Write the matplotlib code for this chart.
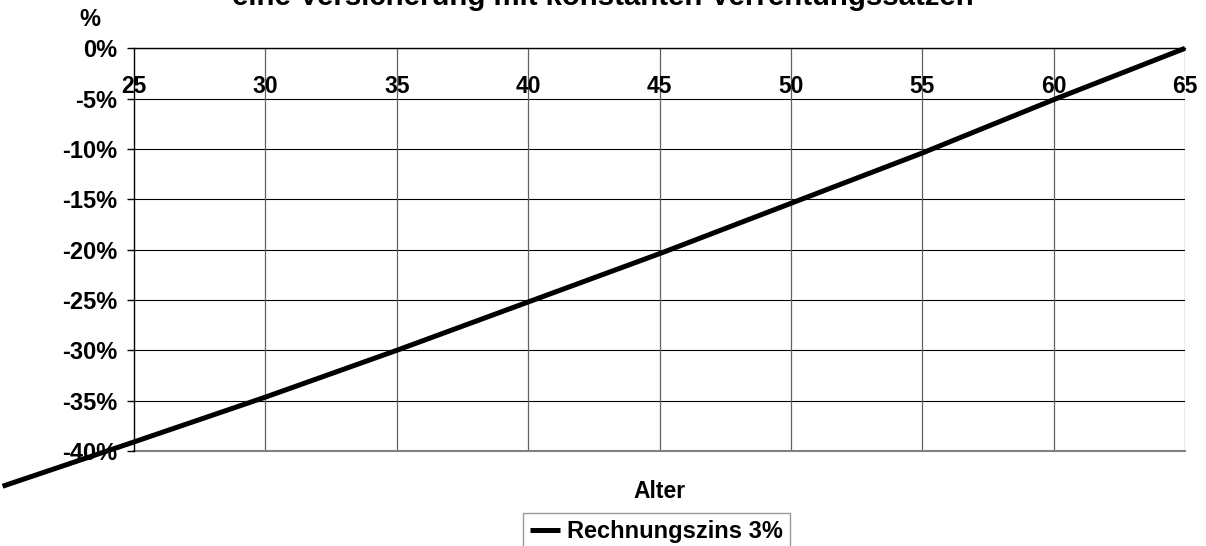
import matplotlib.pyplot as plt

plt.rcParams['font.family'] = ['Liberation Sans', 'DejaVu Sans']
plt.rcParams['font.weight'] = 'bold'

# Alter und Veraenderung in %
alter = [20, 25, 30, 35, 40, 45, 50, 55, 60, 65]
werte = [-43.5, -39.1, -34.65, -30.0, -25.2, -20.4, -15.4, -10.4, -5.1, 0.0]
x_ticks = [25, 30, 35, 40, 45, 50, 55, 60, 65]
y_ticks = [0, -5, -10, -15, -20, -25, -30, -35, -40]
titel = 'eine Versicherung mit konstanten Verrentungssätzen'
serie = 'Rechnungszins 3%'

fig = plt.figure(figsize=(12.06, 5.46), dpi=100)
ax = fig.add_axes([0.1111, 0.174, 0.8715, 0.7375])

ax.set_xlim(25, 65)
ax.set_ylim(-40, 0)

# Gitter
for y in y_ticks:
    ax.axhline(y, color='black', lw=0.8, zorder=1)
for x in x_ticks[1:]:
    ax.axvline(x, color='#606060', lw=0.9, zorder=1)
ax.axhline(-40, color='#808080', lw=1.5, zorder=1, clip_on=False)

ax.plot(alter, werte, color='black', lw=3.6, label=serie, clip_on=False,
        solid_capstyle='butt', zorder=3)

ax.spines['top'].set_visible(False)
ax.spines['right'].set_visible(False)
ax.spines['bottom'].set_position(('data', 0))
ax.spines['bottom'].set_color('black')
ax.spines['bottom'].set_linewidth(1.0)
ax.spines['left'].set_linewidth(1.0)

ax.set_xticks(x_ticks)
ax.set_xticklabels([str(v) for v in x_ticks], fontsize=16.5, fontweight='bold')
ax.tick_params(axis='x', length=0, pad=19)
ax.set_yticks(y_ticks)
ax.set_yticklabels([f'{v}%' for v in y_ticks], fontsize=17, fontweight='bold')
ax.tick_params(axis='y', length=5, width=1, pad=7, direction='out')

fig.text(0.5, 1 - 5 / 546, titel, ha='center', va='baseline',
         fontsize=21.2, fontweight='bold')
fig.text(90 / 1206, 1 - 20 / 546, '%', ha='center', va='center',
         fontsize=17, fontweight='bold')
fig.text(659 / 1206, 1 - 492 / 546, 'Alter', ha='center', va='center',
         fontsize=16.5, fontweight='bold')

leg = ax.legend(loc='upper left', bbox_to_anchor=(523 / 1206, 1 - 513 / 546),
                bbox_transform=fig.transFigure, fontsize=17, frameon=True,
                fancybox=False, borderaxespad=0, borderpad=0.3,
                handlelength=1.25, handletextpad=0.3)
leg.get_frame().set_edgecolor('#808080')
leg.get_frame().set_linewidth(1.0)
for t in leg.get_texts():
    t.set_fontweight('bold')

fig.savefig('out.png', dpi=100)
